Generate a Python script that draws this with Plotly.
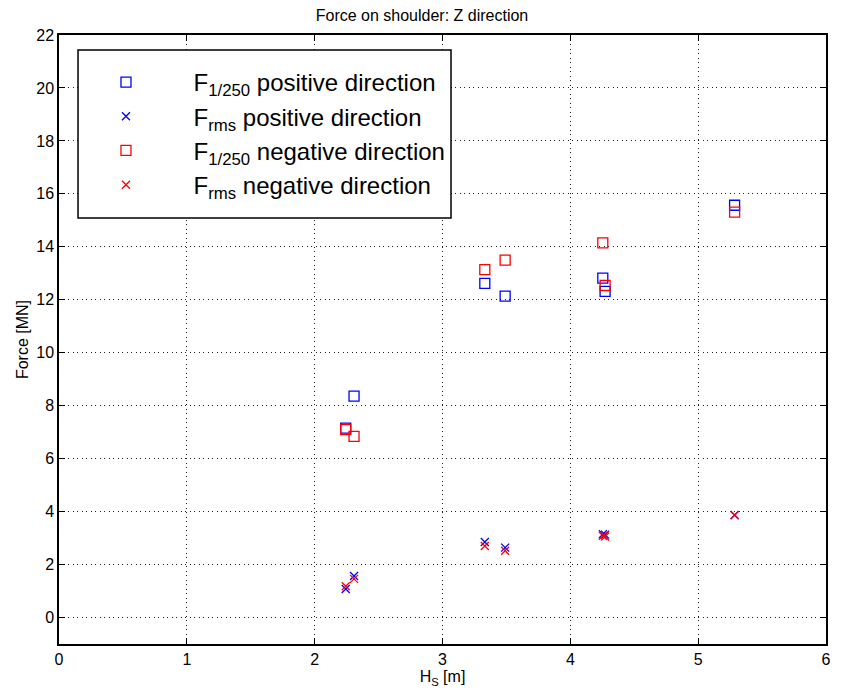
import plotly.graph_objects as go

hs = [2.243, 2.308, 3.331, 3.49, 4.254, 4.272, 5.285]
f250_pos = [7.15, 8.36, 12.62, 12.14, 12.82, 12.32, 15.57]
frms_pos = [1.08, 1.57, 2.85, 2.64, 3.15, 3.13, 3.87]
f250_neg = [7.10, 6.84, 13.14, 13.50, 14.15, 12.54, 15.31]
frms_neg = [1.18, 1.46, 2.70, 2.52, 3.09, 3.06, 3.86]

x_ticks = [0, 1, 2, 3, 4, 5, 6]
y_ticks = list(range(0, 23, 2))

FONT = "Liberation Sans, Arial, sans-serif"
BLUE = "#0000ff"
RED = "#ff0000"
PAD = "&nbsp;&nbsp;&nbsp;"

fig = go.Figure()
fig.add_trace(go.Scatter(x=hs, y=f250_pos, mode="markers", legendgroup="a",
    name=PAD + "F<sub>1/250</sub> positive direction",
    marker=dict(symbol="square-open", size=10, color=BLUE, line=dict(width=1.3, color=BLUE))))
fig.add_trace(go.Scatter(x=hs, y=frms_pos, mode="markers", legendgroup="b",
    name=PAD + "F<sub>rms</sub> positive direction",
    marker=dict(symbol="x-thin-open", size=8, color=BLUE, line=dict(width=1.3, color=BLUE))))
fig.add_trace(go.Scatter(x=hs, y=f250_neg, mode="markers", legendgroup="c",
    name=PAD + "F<sub>1/250</sub> negative direction",
    marker=dict(symbol="square-open", size=10, color=RED, line=dict(width=1.3, color=RED))))
fig.add_trace(go.Scatter(x=hs, y=frms_neg, mode="markers", legendgroup="d",
    name=PAD + "F<sub>rms</sub> negative direction",
    marker=dict(symbol="x-thin-open", size=8, color=RED, line=dict(width=1.3, color=RED))))

axis_common = dict(
    showline=True, linecolor="black", linewidth=1.5, mirror="ticks",
    ticks="inside", ticklen=6, tickcolor="black", tickwidth=1,
    showgrid=True, gridcolor="#222222", griddash="1px,3.5px", gridwidth=1,
    zeroline=False, tickfont=dict(family=FONT, size=16, color="black"),
)

fig.update_layout(
    width=844, height=700,
    margin=dict(l=59, r=18, t=35, b=56),
    paper_bgcolor="white", plot_bgcolor="white",
    font=dict(family=FONT, color="black"),
    title=dict(text="Force on shoulder: Z direction", x=0.5, xanchor="center",
               y=0.978, yanchor="middle", font=dict(family=FONT, size=16, color="black")),
    xaxis=dict(range=[0, 6], tickvals=x_ticks, ticktext=[str(v) for v in x_ticks],
               title=dict(text="H<sub>S</sub> [m]", font=dict(family=FONT, size=16), standoff=4),
               **axis_common),
    yaxis=dict(range=[-1, 22], tickvals=y_ticks, ticktext=[str(v) for v in y_ticks],
               title=dict(text="Force [MN]", font=dict(family=FONT, size=16), standoff=4),
               **axis_common),
    legend=dict(x=0.0254, y=0.959, xanchor="left", yanchor="top",
                bgcolor="rgba(0,0,0,0)", borderwidth=0,
                font=dict(family=FONT, size=24, color="black"),
                itemwidth=85, tracegroupgap=0),
    showlegend=True,
    shapes=[dict(type="rect", xref="paper", yref="paper",
                 x0=0.0248, x1=0.5111, y0=0.6995, y1=0.9754,
                 line=dict(color="black", width=1.5), fillcolor="white", layer="above")],
)

fig.write_html("out.html")
